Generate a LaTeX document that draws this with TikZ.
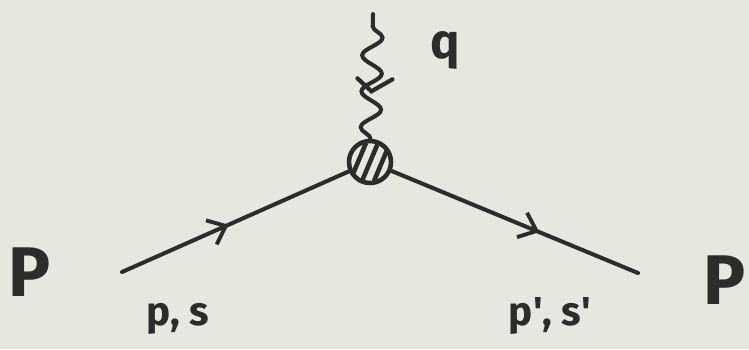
\documentclass[tikz,border=0pt]{standalone}
\usepackage{fontspec}
\setmainfont{Fira Sans}
\usetikzlibrary{decorations.pathmorphing,decorations.markings,arrows.meta}
\definecolor{paper}{HTML}{E7E6DF}
\definecolor{ink}{HTML}{2C2C2A}
\begin{document}
\begin{tikzpicture}[x=0.02cm,y=-0.02cm,
  line/.style={draw=ink,line width=2.3pt,line cap=round},
  fermion/.style={line,postaction={decorate},
    decoration={markings,mark=at position #1 with {\arrow[ink]{Straight Barb[length=9pt,width=15pt,line width=2.2pt]}}}},
  photon/.style={line,decorate,decoration={snake,amplitude=0.2cm,segment length=0.72cm}},
  blob/.style={circle,draw=ink,line width=2.6pt,minimum size=0.84cm,inner sep=0pt,fill=paper,
    path picture={\foreach \d in {-12,0,12}{\draw[ink,line width=2.6pt] ([shift={(\d-8,19)}]path picture bounding box.center) -- ++(16,-38);}}},
  lab/.style={text=ink,font=\bfseries\fontsize{23}{25}\selectfont,inner sep=0pt},
  big/.style={text=ink,font=\bfseries\fontsize{40}{40}\selectfont,inner sep=0pt}
]
\fill[paper] (0,0) rectangle (749,349);
\node[blob] (v) at (370,162) {};
\coordinate (L) at (122,272);
\coordinate (R) at (638,273);
\coordinate (T) at (373,14);
\draw[fermion=0.47] (L) -- (v);
\draw[fermion=0.6] (v) -- (R);
\draw[photon] (v) -- (T);
\path (v) -- (T) coordinate[pos=0.38] (pa);
\draw[line,line width=2.4pt] (pa) ++(-14,-13) -- (pa) -- ++(21,-12);
\node[big] (P1) at (30,272) {P};
\node[big] (P2) at (725,280) {P};
\node[lab] (ps) at (178,319) {p, s};
\node[lab] (pps) at (550,316) {p\textquotesingle, s\textquotesingle};
\node[lab,font=\bfseries\fontsize{28}{30}\selectfont] (q) at (445,50) {q};
\end{tikzpicture}
\end{document}
